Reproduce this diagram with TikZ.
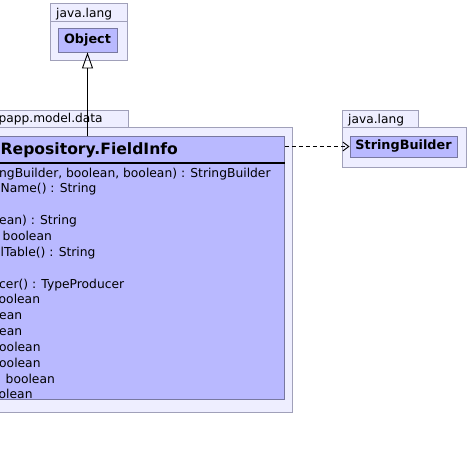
\documentclass[tikz,border=0pt]{standalone}
\usepackage{fontspec}
\setmainfont{DejaVu Sans}
\usetikzlibrary{arrows.meta}
\definecolor{pkgfill}{RGB}{238,238,255}
\definecolor{pkgline}{RGB}{160,160,185}
\definecolor{clsfill}{RGB}{185,185,255}
\definecolor{clsline}{RGB}{120,120,160}
\tikzset{
  pkg/.style={draw=pkgline, fill=pkgfill, line width=0.9pt},
  cls/.style={draw=clsline, fill=clsfill, line width=0.9pt, inner sep=0pt},
  lbl/.style={anchor=base west, inner sep=0pt, font=\fontsize{12.2}{14}\selectfont},
  meth/.style={anchor=base west, inner sep=0pt, font=\fontsize{12.3}{14}\selectfont},
  cname/.style={font=\fontsize{12.8}{14}\selectfont\bfseries},
}
\begin{document}
\begin{tikzpicture}[x=1pt,y=-1pt]
\useasboundingbox (0,0) rectangle (468,450);
\clip (0,0) rectangle (468,450);
% top package java.lang
\draw[pkg] (50,3) rectangle (127,21);
\draw[pkg] (50,21) rectangle (127,60);
\node[lbl] (l1) at (56,17) {java.lang};
\node[cls, cname, minimum width=59pt, minimum height=24pt] (obj) at (87.5,40) {Object};
% main package
\draw[pkg] (-10,110) rectangle (128,127);
\draw[pkg] (-10,127) rectangle (292,412);
\node[lbl] (l2) at (-1.5,122.5) {papp.model.data};
\node[cls, anchor=north west, minimum width=294pt, minimum height=263pt] (cls) at (-10,136) {};
\node[anchor=base west, inner sep=0pt, font=\fontsize{15.6}{17}\selectfont\bfseries] (title) at (0.5,154) {Repository.FieldInfo};
\draw[line width=1.7pt] (cls.west |- 0,163) -- (cls.east |- 0,163);
% methods
\node[meth] (m0) at (-1,177) {ngBuilder, boolean, boolean) : StringBuilder};
\node[meth] (m1) at (0.5,192.9) {Name() : String};
\node[meth] (m3) at (-1,224.5) {ean) : String};
\node[meth] (m4) at (2.5,240.4) {boolean};
\node[meth] (m5) at (0.5,256.2) {lTable() : String};
\node[meth] (m7) at (-1,288) {cer() : TypeProducer};
\node[meth] (m8) at (-1.5,303.8) {oolean};
\node[meth] (m9) at (-1,319.7) {ean};
\node[meth] (m10) at (-1,335.5) {ean};
\node[meth] (m11) at (-1,351.3) {oolean};
\node[meth] (m12) at (-1,367.2) {oolean};
\node[meth] (m13) at (5.5,383) {boolean};
\node[meth] (m14) at (-1.5,398.9) {olean};
% right package java.lang
\draw[pkg] (342,110) rectangle (418,127);
\draw[pkg] (342,127) rectangle (466,167);
\node[lbl] (l3) at (348,123) {java.lang};
\node[cls, cname, minimum width=107pt, minimum height=21pt] (sb) at (403.5,146.5) {StringBuilder};
% connectors
\draw[line width=0.9pt, -{Triangle[open, length=16pt, width=11pt, line width=0.9pt]}] (cls.north -| obj.south) -- (obj.south);
\draw[line width=0.9pt, dash pattern=on 4pt off 3pt, -{Straight Barb[length=6pt, width=9pt, line width=0.9pt]}] (cls.east |- sb.west) -- (sb.west);
\end{tikzpicture}
\end{document}
